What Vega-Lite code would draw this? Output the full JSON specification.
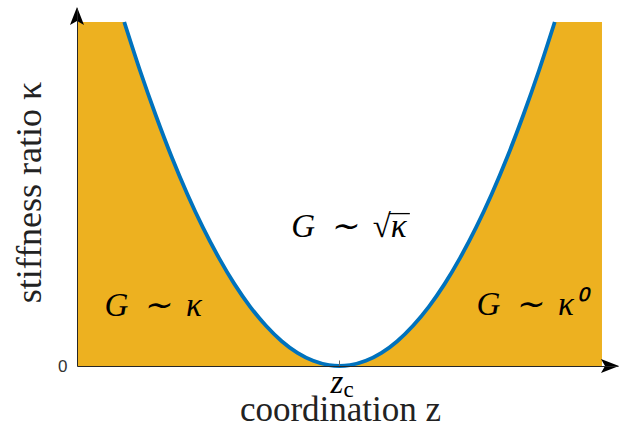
{
  "$schema": "https://vega.github.io/schema/vega-lite/v6.json",
  "width": 541,
  "height": 358,
  "autosize": {"type": "none"},
  "padding": {"left": 77, "top": 8, "right": 2, "bottom": 59},
  "background": "white",
  "config": {
    "view": {"stroke": null},
    "axis": {"grid": false}
  },
  "datasets": {
    "curve": [
      {"z": 0.09, "kappa": 1.0},
      {"z": 0.12, "kappa": 0.859},
      {"z": 0.15, "kappa": 0.729},
      {"z": 0.18, "kappa": 0.609},
      {"z": 0.21, "kappa": 0.5},
      {"z": 0.24, "kappa": 0.402},
      {"z": 0.27, "kappa": 0.315},
      {"z": 0.30, "kappa": 0.238},
      {"z": 0.33, "kappa": 0.172},
      {"z": 0.36, "kappa": 0.117},
      {"z": 0.39, "kappa": 0.072},
      {"z": 0.42, "kappa": 0.038},
      {"z": 0.45, "kappa": 0.015},
      {"z": 0.48, "kappa": 0.0024},
      {"z": 0.50, "kappa": 0.0},
      {"z": 0.52, "kappa": 0.0024},
      {"z": 0.55, "kappa": 0.015},
      {"z": 0.58, "kappa": 0.038},
      {"z": 0.61, "kappa": 0.072},
      {"z": 0.64, "kappa": 0.117},
      {"z": 0.67, "kappa": 0.172},
      {"z": 0.70, "kappa": 0.238},
      {"z": 0.73, "kappa": 0.315},
      {"z": 0.76, "kappa": 0.402},
      {"z": 0.79, "kappa": 0.5},
      {"z": 0.82, "kappa": 0.609},
      {"z": 0.85, "kappa": 0.729},
      {"z": 0.88, "kappa": 0.859},
      {"z": 0.91, "kappa": 1.0}
    ],
    "labels": [
      {"label": "G \u2009∼\u2009 κ", "z": 0.145, "kappa": 0.145},
      {"label": "G \u2009∼\u2009 √κ", "z": 0.518, "kappa": 0.375},
      {"label": "G \u2009∼\u2009 κ⁰", "z": 0.865, "kappa": 0.148}
    ],
    "vinculum": [{"z": 0.594, "z2": 0.634, "kappa": 0.443}],
    "zc": [{"label": "z", "z": 0.495, "kappa": -0.078}],
    "zcsub": [{"label": "c", "z": 0.5175, "kappa": -0.09}]
  },
  "layer": [
    {
      "data": {"values": [{}]},
      "mark": {"type": "rect", "color": "#EDB120"},
      "encoding": {
        "x": {"datum": 0, "type": "quantitative", "scale": {"domain": [0, 1.0305], "nice": false, "zero": false},
              "axis": {"values": [0.5], "labels": false, "tickSize": -6, "tickColor": "#666666", "tickWidth": 1,
                       "domainColor": "#262626", "domainWidth": 1, "grid": false, "zindex": 1,
                       "title": "coordination z", "titleFont": "Liberation Serif", "titleFontSize": 35, "titleFontWeight": "normal",
                       "titleColor": "#222222", "titleBaseline": "alphabetic", "titleAlign": "center", "titleX": 263, "titleY": 54}},
        "x2": {"datum": 1},
        "y": {"datum": 0, "type": "quantitative", "scale": {"domain": [0, 1.0407], "nice": false, "zero": false},
              "axis": {"values": [0], "format": "d", "ticks": false, "labelFont": "Liberation Sans", "labelFontSize": 17, "labelColor": "#333333",
                       "labelPadding": 10, "domainColor": "#262626", "domainWidth": 1, "grid": false, "zindex": 1,
                       "title": "stiffness ratio κ", "titleFont": "Liberation Serif", "titleFontSize": 36, "titleFontWeight": "normal",
                       "titleColor": "#222222", "titleBaseline": "alphabetic", "titleAlign": "center", "titleAngle": -90,
                       "titleX": -37, "titleY": 184}},
        "y2": {"datum": 1}
      }
    },
    {
      "data": {"name": "curve"},
      "mark": {"type": "area", "color": "white", "interpolate": "monotone"},
      "encoding": {
        "x": {"field": "z", "type": "quantitative"},
        "y": {"field": "kappa", "type": "quantitative"},
        "y2": {"datum": 1}
      }
    },
    {
      "data": {"name": "curve"},
      "mark": {"type": "line", "color": "#0072BD", "strokeWidth": 3.8, "interpolate": "monotone", "strokeCap": "butt"},
      "encoding": {
        "x": {"field": "z", "type": "quantitative"},
        "y": {"field": "kappa", "type": "quantitative"}
      }
    },
    {
      "data": {"values": [{}]},
      "mark": {"type": "point", "shape": "M0,-1L0.78,1L0,0.55L-0.78,1Z", "filled": true, "color": "black", "opacity": 1, "size": 324},
      "encoding": {
        "x": {"datum": 0, "type": "quantitative"},
        "y": {"datum": 1.0174, "type": "quantitative"}
      }
    },
    {
      "data": {"values": [{}]},
      "mark": {"type": "point", "shape": "M1,0L-1,0.78L-0.55,0L-1,-0.78Z", "filled": true, "color": "black", "opacity": 1, "size": 324},
      "encoding": {
        "x": {"datum": 1.0152, "type": "quantitative"},
        "y": {"datum": 0, "type": "quantitative"}
      }
    },
    {
      "data": {"name": "labels"},
      "mark": {"type": "text", "font": "Liberation Serif", "fontStyle": "italic", "fontSize": 33, "baseline": "alphabetic", "align": "center", "color": "black"},
      "encoding": {
        "x": {"field": "z", "type": "quantitative"},
        "y": {"field": "kappa", "type": "quantitative"},
        "text": {"field": "label"}
      }
    },
    {
      "data": {"name": "vinculum"},
      "mark": {"type": "rule", "color": "black", "strokeWidth": 1.3},
      "encoding": {
        "x": {"field": "z", "type": "quantitative"},
        "x2": {"field": "z2"},
        "y": {"field": "kappa", "type": "quantitative"}
      }
    },
    {
      "data": {"name": "zc"},
      "mark": {"type": "text", "font": "Liberation Serif", "fontStyle": "italic", "fontSize": 33, "baseline": "alphabetic", "align": "center", "color": "black"},
      "encoding": {
        "x": {"field": "z", "type": "quantitative"},
        "y": {"field": "kappa", "type": "quantitative"},
        "text": {"field": "label"}
      }
    },
    {
      "data": {"name": "zcsub"},
      "mark": {"type": "text", "font": "Liberation Serif", "fontSize": 23, "baseline": "alphabetic", "align": "center", "color": "black"},
      "encoding": {
        "x": {"field": "z", "type": "quantitative"},
        "y": {"field": "kappa", "type": "quantitative"},
        "text": {"field": "label"}
      }
    }
  ]
}
